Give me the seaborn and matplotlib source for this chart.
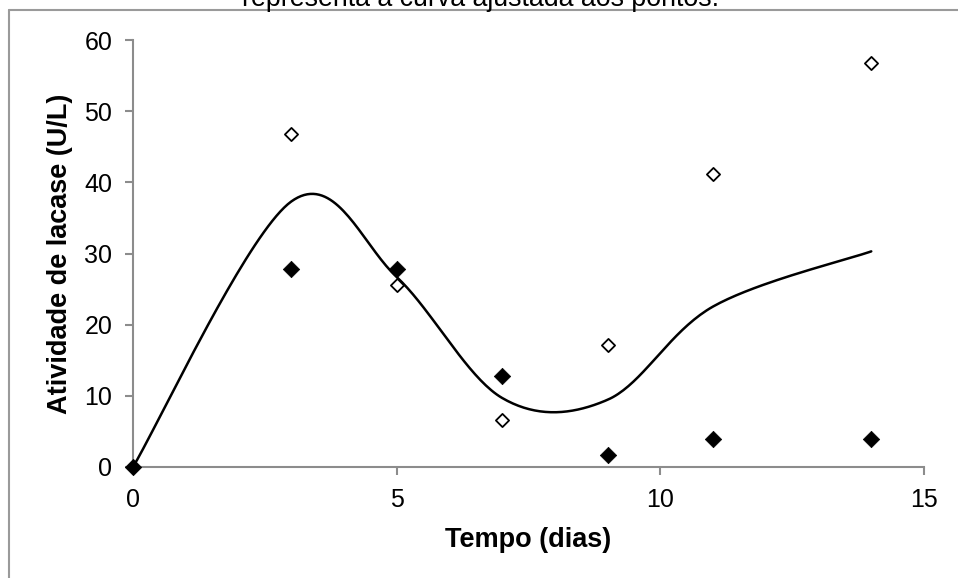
import numpy as np
import pandas as pd
import matplotlib
matplotlib.use("Agg")
import matplotlib.pyplot as plt
from matplotlib.lines import Line2D
import seaborn as sns

# Data
dias = [0, 3, 5, 7, 9, 11, 14]
serie_aberta = [0, 46.8, 25.6, 6.6, 17.2, 41.2, 56.7]
serie_cheia = [0, 27.8, 27.8, 12.8, 1.7, 3.9, 3.9]
x_ticks = [0, 5, 10, 15]
y_ticks = [0, 10, 20, 30, 40, 50, 60]

sns.set_theme(style="white")
plt.rcParams['font.family'] = ['Liberation Sans', 'DejaVu Sans']

fig = plt.figure(figsize=(9.58, 5.78), dpi=100)
ax = fig.add_axes([133/958, 111/578, (924-133)/958, (467-40)/578])

# Smooth curve (Excel-style Bezier through mean points)
mx = np.array(dias, float)
my = (np.array(serie_aberta) + np.array(serie_cheia)) / 2
cx, cy = [], []
n = len(mx)
t = np.linspace(0, 1, 40)
for i in range(n - 1):
    p0 = np.array([mx[max(i-1, 0)], my[max(i-1, 0)]])
    p1 = np.array([mx[i], my[i]])
    p2 = np.array([mx[i+1], my[i+1]])
    p3 = np.array([mx[min(i+2, n-1)], my[min(i+2, n-1)]])
    c1 = p1 + (p2 - p0) / 6
    c2 = p2 - (p3 - p1) / 6
    b = ((1-t)**3)[:, None]*p1 + (3*(1-t)**2*t)[:, None]*c1 + (3*(1-t)*t**2)[:, None]*c2 + (t**3)[:, None]*p2
    cx.extend(b[:, 0]); cy.extend(b[:, 1])
curve = pd.DataFrame({"x": cx, "y": cy})
sns.lineplot(data=curve, x="x", y="y", sort=False, estimator=None, color="black",
             linewidth=1.8, ax=ax, clip_on=False)

df_a = pd.DataFrame({"x": dias, "y": serie_aberta})
df_c = pd.DataFrame({"x": dias, "y": serie_cheia})
sns.scatterplot(data=df_a, x="x", y="y", marker="D", s=45, facecolor="white",
                edgecolor="black", linewidth=1.3, ax=ax, clip_on=False, zorder=3)
sns.scatterplot(data=df_c, x="x", y="y", marker="D", s=70, color="black",
                edgecolor="black", linewidth=0.5, ax=ax, clip_on=False, zorder=4)

ax.set_xlim(0, 15)
ax.set_ylim(0, 60)
ax.set_xticks(x_ticks)
ax.set_yticks(y_ticks)
ax.set_xticklabels([str(v) for v in x_ticks])
ax.set_yticklabels([str(v) for v in y_ticks])
for s in ["top", "right"]:
    ax.spines[s].set_visible(False)
for s in ["left", "bottom"]:
    ax.spines[s].set_color("#8c8c8c")
    ax.spines[s].set_linewidth(1.5)
ax.tick_params(axis="both", direction="out", length=6, width=1.5, color="#8c8c8c",
               labelsize=18, labelcolor="black", pad=9)
ax.tick_params(axis="x", bottom=True)
ax.tick_params(axis="y", left=True)
ax.set_xlabel("Tempo (dias)", fontsize=19.5, fontweight="bold", labelpad=11, color="black")
ax.set_ylabel("Atividade de lacase (U/L)", fontsize=19.5, fontweight="bold", labelpad=8,
              color="black")
ax.grid(False)

# Chart-area border
fig.add_artist(Line2D([8.5/958, 8.5/958], [0, 1 - 10/578], color="#9a9a9a", lw=1.5,
                      transform=fig.transFigure))
fig.add_artist(Line2D([8.5/958, 1], [1 - 10/578, 1 - 10/578], color="#9a9a9a", lw=1.5,
                      transform=fig.transFigure))

fig.text(481/958, 1 - 6/578, "representa a curva ajustada aos pontos.", ha="center",
         va="baseline", fontsize=19.3, color="black")

fig.savefig("out.png", dpi=100)
